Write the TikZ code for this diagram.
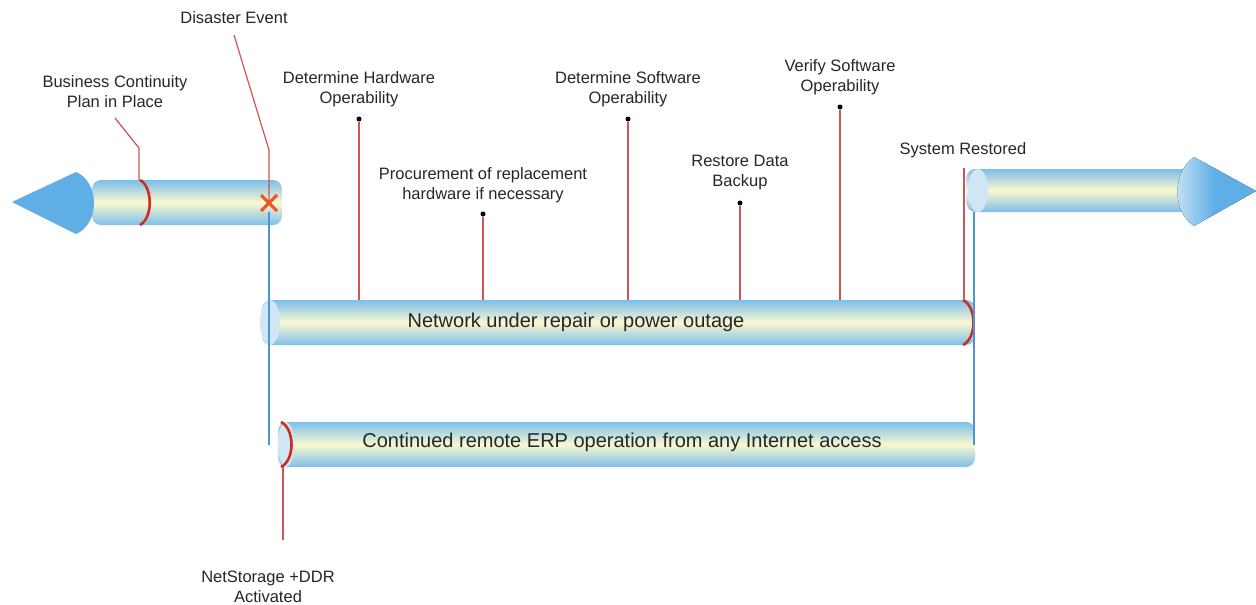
\documentclass[tikz,border=0pt]{standalone}
\usepackage{fontspec}
\setmainfont{Liberation Sans}
\definecolor{tubeblue}{RGB}{125,190,235}
\definecolor{tubecream}{RGB}{250,248,208}
\definecolor{headblue}{RGB}{95,175,230}
\definecolor{capblue}{RGB}{208,230,245}
\definecolor{arcred}{RGB}{205,45,30}
\definecolor{linered}{RGB}{205,85,85}
\definecolor{lineblue}{RGB}{75,150,210}
\definecolor{xorange}{RGB}{235,85,35}
\begin{document}
\begin{tikzpicture}[x=1pt,y=-1pt]
\tikzstyle{every node}=[inner sep=0pt,text=black!85];
\tikzstyle{tube}=[rectangle,rounded corners=9pt,top color=tubeblue,bottom color=tubeblue,middle color=tubecream,font=\fontsize{20}{24}\selectfont];
\tikzstyle{label}=[align=center,font=\fontsize{16.5}{20}\selectfont];
\tikzstyle{dot}=[circle,fill=black,minimum size=5pt];
\tikzstyle{redline}=[linered,line width=1.2pt];
\tikzstyle{blueline}=[lineblue,line width=1.2pt];
\tikzstyle{redarc}=[arcred,line width=2.6pt];
\useasboundingbox (0,0) rectangle (1256,605);

% tubes
\node[tube,minimum width=190pt,minimum height=45pt] (before) at (187,202.5) {};
\node[tube,minimum width=235pt,minimum height=43pt] (after) at (1084,190.5) {};
\node[tube,minimum width=713pt,minimum height=45pt] (net) at (618.5,322.5) {};
\node[tube,minimum width=697pt,minimum height=45pt] (remote) at (626.5,444.5) {};
\node[font=\fontsize{20}{24}\selectfont] (nettext) at (576,322) {Network under repair or power outage};
\node[font=\fontsize{20}{24}\selectfont] (remotetext) at (622,442) {Continued remote ERP operation from any Internet access};

% tube ends
\fill[capblue] (270,322.5) ellipse (10 and 22.5);
\fill[capblue] (286,444.5) ellipse (8 and 22.5);
\fill[capblue] (978,190.5) ellipse (10 and 21.5);
\draw[redarc] (140,180) .. controls (153,187) and (153,218) .. (140,225);
\draw[redarc] (963,300) .. controls (977,307) and (977,338) .. (963,345);
\draw[redarc] (281,422) .. controls (295,429) and (295,460) .. (281,467);

% arrow heads
\fill[headblue] (12,202) -- (76,172) .. controls (100,182) and (100,224) .. (76,234) -- cycle;
\fill[left color=capblue,right color=headblue,middle color=headblue] (1256,191) -- (1194,157) .. controls (1172,172) and (1172,212) .. (1194,226) -- cycle;

% disaster mark
\node (cross) at (269,203) {};
\draw[xorange,line width=3pt] (261,195) -- (277,211) (261,211) -- (277,195);

% connectors
\coordinate (leftdrop) at (269,212);
\coordinate (rightdrop) at (974,212);
\draw[blueline] (leftdrop) -- (leftdrop |- remote.center);
\draw[blueline] (rightdrop) -- (rightdrop |- remote.center);

% labels
\node[label] (bcp) at (115,92) {Business Continuity\\Plan in Place};
\node[label] (disaster) at (234,18) {Disaster Event};
\node[label] (hardware) at (359,89) {Determine Hardware\\Operability};
\node[label] (procure) at (483,185) {Procurement of replacement\\hardware if necessary};
\node[label] (software) at (628,89) {Determine Software\\Operability};
\node[label] (restore) at (740,173) {Restore Data\\Backup};
\node[label] (verify) at (840,77) {Verify Software\\Operability};
\node[label] (restored) at (963,150) {System Restored};
\node[label] (storage) at (268,587) {NetStorage +DDR\\Activated};

\node[dot] (hwdot) at (359,119) {};
\node[dot] (prdot) at (483,214) {};
\node[dot] (swdot) at (628,119) {};
\node[dot] (rsdot) at (740,203) {};
\node[dot] (vfdot) at (840,107) {};

\draw[redline] (115,118) -- (139,148) -- (139,180);
\draw[redline] (234,35) -- (269,150) -- (cross);
\draw[redline] (hwdot) -- (hwdot |- net.north);
\draw[redline] (prdot) -- (prdot |- net.north);
\draw[redline] (swdot) -- (swdot |- net.north);
\draw[redline] (rsdot) -- (rsdot |- net.north);
\draw[redline] (vfdot) -- (vfdot |- net.north);
\coordinate (sysend) at (964,168);
\draw[redline] (sysend) -- (sysend |- net.north);
\coordinate (stend) at (283,540);
\draw[redline] (stend) -- (stend |- remote.south);
\end{tikzpicture}
\end{document}
